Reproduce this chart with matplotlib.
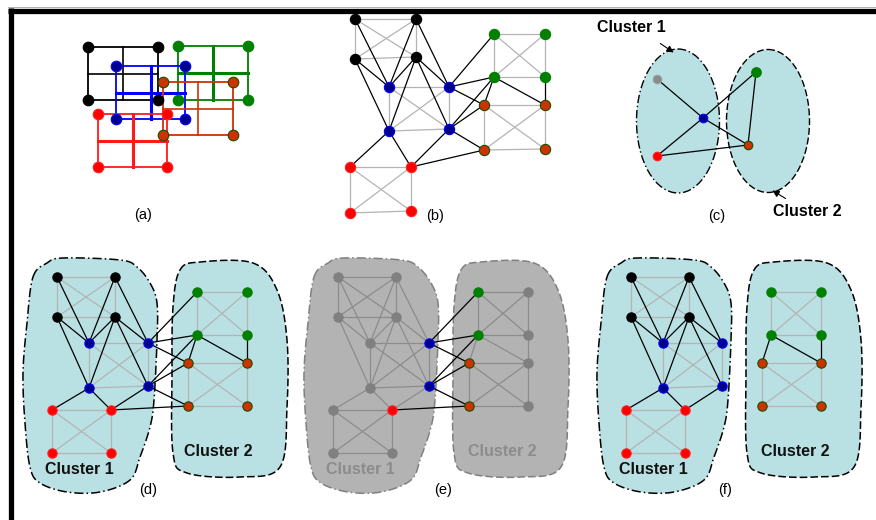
import numpy as np
import matplotlib.pyplot as plt
from matplotlib.patches import Ellipse, Polygon

plt.rcParams['font.family'] = ['Liberation Sans', 'DejaVu Sans']

# ---------------------------------------------------------------
# data (pixel coordinates of the reference picture)
# ---------------------------------------------------------------
groups = ["black", "blue", "red", "green", "orange"]
cluster_1 = ["black", "blue", "red"]

# panel (a): grid corners x0, x1, y0, y1 per group (drawing order)
a_grids = {
    "black": (88, 158, 47, 100),
    "green": (178, 248, 46, 100),
    "blue": (116, 185, 66, 119),
    "orange": (163, 233, 82, 135),
    "red": (98, 167, 114, 167),
}

# node order in every group: top-left, top-right, bottom-left, bottom-right
b_nodes = {
    "black": [(355, 19), (416, 19), (355, 59), (416, 57)],
    "blue": [(389, 87), (449, 87), (389, 131), (449, 129)],
    "red": [(350, 167), (411, 167), (350, 213), (411, 211)],
    "green": [(494, 34), (545, 34), (494, 77), (545, 77)],
    "orange": [(484, 105), (545, 105), (484, 150), (545, 149)],
}
d_nodes = {
    "black": [(57, 277), (115, 277), (57, 317), (115, 317)],
    "blue": [(89, 343), (148, 343), (89, 388), (148, 386)],
    "red": [(52, 410), (111, 410), (52, 453), (111, 453)],
    "green": [(197, 292), (247, 292), (197, 335), (247, 335)],
    "orange": [(188, 363), (247, 363), (188, 406), (247, 406)],
}
e_shift = 281
f_shift = 574

inner_pairs = [(0, 1), (0, 2), (1, 3), (2, 3), (0, 3), (1, 2)]
link_edges = [
    ("black", 0, "blue", 0), ("black", 1, "blue", 0), ("black", 1, "blue", 1),
    ("black", 2, "blue", 0), ("black", 2, "blue", 2), ("black", 3, "blue", 0),
    ("black", 3, "blue", 2), ("black", 3, "blue", 3), ("black", 3, "blue", 1),
    ("blue", 2, "red", 0), ("blue", 2, "red", 1), ("blue", 3, "red", 1),
    ("blue", 1, "green", 0), ("blue", 1, "green", 2), ("blue", 3, "green", 2),
    ("blue", 1, "orange", 0), ("blue", 3, "orange", 0), ("blue", 3, "orange", 2),
    ("red", 1, "orange", 2),
    ("green", 2, "orange", 0), ("green", 2, "orange", 1), ("green", 3, "orange", 1),
]

# cluster outlines for panel (d)
blob_1 = [(33, 277), (47, 263), (63, 258), (120, 260), (137, 267), (150, 283),
          (157, 303), (157, 340), (154, 400), (150, 427), (140, 457), (130, 480),
          (100, 492), (67, 492), (40, 483), (30, 467), (25, 423), (23, 373),
          (27, 323)]
blob_2 = [(180, 270), (200, 262), (253, 263), (277, 290), (287, 340), (287, 407),
          (280, 467), (240, 477), (187, 473), (173, 453), (172, 373), (173, 307)]

# panel (c)
c_nodes = {"gray": (657, 79), "blue": (703, 118), "green": (756, 72),
           "orange": (748, 145), "red": (657, 156)}
c_edges = [("gray", "blue"), ("blue", "orange"), ("red", "blue"),
           ("blue", "green"), ("red", "orange"), ("green", "orange")]

panel_labels = ["(a)", "(b)", "(c)", "(d)", "(e)", "(f)"]
label_pos = [(143, 215), (435, 216), (717, 216), (148, 490), (443, 490), (725, 490)]

face = {"black": "#000000", "blue": "#00008b", "red": "#ff0000",
        "green": "#008000", "orange": "#cc3300", "gray": "#8a8a8a"}
rim = {"black": "#000000", "blue": "#0000ff", "red": "#ff2020",
       "green": "#008000", "orange": "#1a4d00", "gray": "#a0a0a0"}
line_col = {"black": "#000000", "blue": "#0000ff", "red": "#ff1a1a",
            "green": "#008000", "orange": "#cc3300"}

CYAN = "#b9e0e3"
GRAY_EDGE = "#b4b4b4"


def smooth_closed(pts, n=16):
    P = np.array(pts, float)
    N = len(P)
    t = np.linspace(0, 1, n, endpoint=False)[:, None]
    out = []
    for i in range(N):
        p0, p1, p2, p3 = P[i - 1], P[i], P[(i + 1) % N], P[(i + 2) % N]
        out.append(0.5 * (2 * p1 + (-p0 + p2) * t
                          + (2 * p0 - 5 * p1 + 4 * p2 - p3) * t ** 2
                          + (-p0 + 3 * p1 - 3 * p2 + p3) * t ** 3))
    return np.vstack(out)


def shifted(nodes, dx):
    return {g: [(x + dx, y) for x, y in pts] for g, pts in nodes.items()}


def draw_graph(ax, nodes, size, mode="full"):
    # mode: full / cut (only cut set coloured) / split (no cut edges)
    for g in groups:
        pts = nodes[g]
        col = "#8c8c8c" if mode == "cut" else GRAY_EDGE
        for i, j in inner_pairs:
            ax.plot([pts[i][0], pts[j][0]], [pts[i][1], pts[j][1]],
                    color=col, lw=0.9, zorder=2)
    shown = set()
    for g1, i, g2, j in link_edges:
        cut = (g1 in cluster_1) != (g2 in cluster_1)
        if mode == "split" and cut:
            continue
        col = "black"
        if mode == "cut" and not cut:
            col = "#8c8c8c"
        if mode == "cut" and cut:
            shown.update([(g1, i), (g2, j)])
        p, q = nodes[g1][i], nodes[g2][j]
        ax.plot([p[0], q[0]], [p[1], q[1]], color=col, lw=0.9, zorder=3)
    for g in groups:
        for k, (x, y) in enumerate(nodes[g]):
            key = g
            if mode == "cut" and (g, k) not in shown:
                key = "gray"
            fc = "#808080" if key == "gray" else face[key]
            ec = "#808080" if key == "gray" else rim[key]
            ax.scatter([x], [y], s=size, color=fc, edgecolors=ec,
                       linewidths=0.8, zorder=4)


def draw_blobs(ax, dx, fill, edge, text_col, txt2_pos):
    for pts, ls in [(blob_1, (0, (6, 2, 1, 2))), (blob_2, (0, (5, 2)))]:
        xy = smooth_closed([(x + dx, y) for x, y in pts])
        ax.add_patch(Polygon(xy, closed=True, facecolor=fill, edgecolor=edge,
                             lw=1.1, linestyle=ls, zorder=1))
    ax.text(79 + dx, 470, "Cluster 1", fontsize=11.5, fontweight="bold",
            color=text_col, ha="center", va="center", zorder=5)
    ax.text(txt2_pos + dx, 451, "Cluster 2", fontsize=11.5, fontweight="bold",
            color=text_col, ha="center", va="center", zorder=5)


fig = plt.figure(figsize=(8.76, 5.2), dpi=100)
ax = fig.add_axes([0, 0, 1, 1])
ax.set_xlim(0, 876)
ax.set_ylim(520, 0)
ax.axis("off")

# frame
ax.plot([8, 876], [7, 7], color="#b0b0b0", lw=0.8)
ax.plot([8, 876], [10.5, 10.5], color="black", lw=3.8, solid_capstyle="butt")
ax.plot([10.5, 10.5], [8, 520], color="black", lw=3.8, solid_capstyle="butt")

# (a) overlapping grids
for n, (g, (x0, x1, y0, y1)) in enumerate(a_grids.items()):
    c = line_col[g]
    ax.plot([x0, x1, x1, x0, x0], [y0, y0, y1, y1, y0], color=c, lw=1.3,
            zorder=2 + n)
    xm, ym = (x0 + x1) / 2, (y0 + y1) / 2
    mid_w = 1.2 if g in ("black", "orange") else 2.2
    ax.plot([xm, xm], [y0, y1], color=c, lw=mid_w, zorder=2 + n)
    ax.plot([x0, x1], [ym, ym], color=c, lw=mid_w, zorder=2 + n)
    ax.scatter([x0, x1, x0, x1], [y0, y0, y1, y1], s=58, color=face[g],
               edgecolors=rim[g], linewidths=0.8, zorder=10 + n)

# (b) full graph
draw_graph(ax, b_nodes, 55)

# (c) coarse graph with two clusters
ax.add_patch(Ellipse((678, 121), 83, 144, facecolor=CYAN, edgecolor="black",
                     lw=1.0, linestyle=(0, (6, 2, 1, 2)), zorder=1))
ax.add_patch(Ellipse((768, 121), 83, 143, facecolor=CYAN, edgecolor="black",
                     lw=1.0, linestyle=(0, (5, 2)), zorder=1))
for u, v in c_edges:
    p, q = c_nodes[u], c_nodes[v]
    ax.plot([p[0], q[0]], [p[1], q[1]], color="black", lw=0.9, zorder=3)
for name, (x, y) in c_nodes.items():
    ax.scatter([x], [y], s=48 if name == "green" else 38, color=face[name],
               edgecolors=rim[name], linewidths=0.8, zorder=4)
ax.annotate("", xy=(676, 54), xytext=(658, 42),
            arrowprops=dict(arrowstyle="-|>", color="black", lw=0.8,
                            mutation_scale=10), zorder=5)
ax.annotate("", xy=(770, 189), xytext=(788, 200),
            arrowprops=dict(arrowstyle="-|>", color="black", lw=0.8,
                            mutation_scale=10), zorder=5)
ax.text(631, 28, "Cluster 1", fontsize=11.5, fontweight="bold",
        ha="center", va="center")
ax.text(807, 212, "Cluster 2", fontsize=11.5, fontweight="bold",
        ha="center", va="center")

# (d) clusters with full graph
draw_blobs(ax, 0, CYAN, "black", "#111111", 218)
draw_graph(ax, d_nodes, 45)

# (e) cut edges highlighted
draw_blobs(ax, e_shift, "#b3b3b3", "#808080", "#8c8c8c", 221)
draw_graph(ax, shifted(d_nodes, e_shift), 45, mode="cut")

# (f) clusters after removing cut edges
draw_blobs(ax, f_shift, CYAN, "black", "#111111", 221)
draw_graph(ax, shifted(d_nodes, f_shift), 45, mode="split")

for lab, (x, y) in zip(panel_labels, label_pos):
    ax.text(x, y, lab, fontsize=10.5, ha="center", va="center")

fig.savefig("out.png", dpi=100)
